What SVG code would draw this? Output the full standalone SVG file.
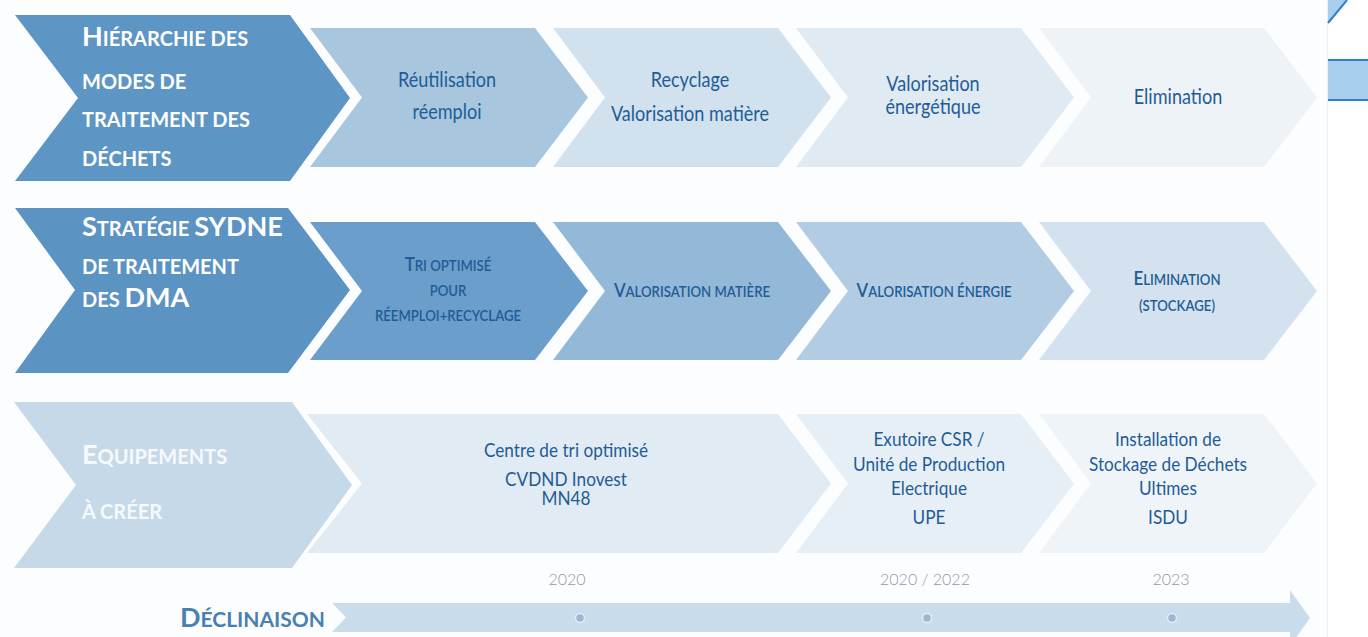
<svg xmlns="http://www.w3.org/2000/svg" width="1368" height="637" viewBox="0 0 1368 637">
  <style>
    .hd { fill:#ffffff; font-family:Lato, "Open Sans", sans-serif; font-weight:700; font-size:20px; }
    .hd3 { fill:#f5f9fc; font-family:Lato, "Open Sans", sans-serif; font-weight:700; font-size:20px; }
    .big { font-size:27px; }
    .lbl { fill:#1f5c96; font-family:Lato, "Open Sans", sans-serif; font-size:21px; text-anchor:middle; }
    .lbl3 { fill:#1f5c96; font-family:Lato, "Open Sans", sans-serif; font-size:20px; text-anchor:middle; }
    .sc { fill:#1f5c96; font-family:Lato, "Open Sans", sans-serif; font-weight:600; font-size:15.5px; text-anchor:middle; }
    .scb { font-size:20px; }
    .yr { fill:#8a9aac; font-family:Lato, "Open Sans", sans-serif; font-weight:300; font-size:16px; text-anchor:middle; }
    .decl { fill:#4a80b0; font-family:Lato, "Open Sans", sans-serif; font-weight:700; font-size:21px; }
    .dot { fill:#9ab8d4; stroke:#e3edf5; stroke-width:1.5; }
  </style>
  <rect x="0" y="0" width="1368" height="637" fill="#ffffff"/>
  <rect x="0" y="0" width="1327" height="637" fill="#fcfdfe"/>
  <line x1="1327.5" y1="0" x2="1327.5" y2="637" stroke="#eef0f2" stroke-width="1"/>

  <!-- Row 1 -->
  <g id="row1-header">
    <polygon points="15,15 290,15 350,98 290,181 15,181 78,98" fill="#5d95c4"/>
    <text class="hd" x="82" y="46"><tspan class="big">H</tspan>IÉRARCHIE DES</text>
    <text class="hd" x="82" y="89">MODES DE</text>
    <text class="hd" x="82" y="127">TRAITEMENT DES</text>
    <text class="hd" x="82" y="166">DÉCHETS</text>
  </g>
  <g id="row1-reutilisation">
    <polygon points="310,28 535,28 588,97.5 535,167 310,167 362,97.5" fill="#a8c7df"/>
    <text class="lbl" transform="matrix(0.86 0 0 1 447 0)" x="0" y="87">Réutilisation</text>
    <text class="lbl" transform="matrix(0.86 0 0 1 447 0)" x="0" y="119">réemploi</text>
  </g>
  <g id="row1-recyclage">
    <polygon points="553,28 778,28 831,97.5 778,167 553,167 605,97.5" fill="#d2e1ee"/>
    <text class="lbl" transform="matrix(0.86 0 0 1 690 0)" x="0" y="87">Recyclage</text>
    <text class="lbl" transform="matrix(0.86 0 0 1 690 0)" x="0" y="121">Valorisation matière</text>
  </g>
  <g id="row1-valorisation-energetique">
    <polygon points="796,28 1021,28 1074,97.5 1021,167 796,167 848,97.5" fill="#e0eaf3"/>
    <text class="lbl" transform="matrix(0.86 0 0 1 933 0)" x="0" y="91">Valorisation</text>
    <text class="lbl" transform="matrix(0.86 0 0 1 933 0)" x="0" y="114">énergétique</text>
  </g>
  <g id="row1-elimination">
    <polygon points="1039,28 1264,28 1317,97.5 1264,167 1039,167 1091,97.5" fill="#eef3f8"/>
    <text class="lbl" transform="matrix(0.86 0 0 1 1178 0)" x="0" y="104">Elimination</text>
  </g>

  <!-- Row 2 -->
  <g id="row2-header">
    <polygon points="15,208 288,208 350,290 288,373 15,373 75,290" fill="#5b93c2"/>
    <text class="hd" x="82" y="236"><tspan class="big">S</tspan>TRATÉGIE <tspan class="big">SYDNE</tspan></text>
    <text class="hd" x="82" y="274">DE TRAITEMENT</text>
    <text class="hd" x="82" y="307">DES <tspan class="big">DMA</tspan></text>
  </g>
  <g id="row2-tri">
    <polygon points="310,222 535,222 588,291 535,360 310,360 362,291" fill="#6b9ecb"/>
    <text class="sc" transform="matrix(0.85 0 0 1 448 0)" x="0" y="271"><tspan class="scb">T</tspan>RI OPTIMISÉ</text>
    <text class="sc" transform="matrix(0.85 0 0 1 448 0)" x="0" y="296">POUR</text>
    <text class="sc" transform="matrix(0.85 0 0 1 448 0)" x="0" y="321">RÉEMPLOI+RECYCLAGE</text>
  </g>
  <g id="row2-valorisation-matiere">
    <polygon points="553,222 778,222 831,291 778,360 553,360 605,291" fill="#93b8d8"/>
    <text class="sc" transform="matrix(0.85 0 0 1 692 0)" x="0" y="297"><tspan class="scb">V</tspan>ALORISATION MATIÈRE</text>
  </g>
  <g id="row2-valorisation-energie">
    <polygon points="796,222 1021,222 1074,291 1021,360 796,360 848,291" fill="#b1cce3"/>
    <text class="sc" transform="matrix(0.85 0 0 1 934 0)" x="0" y="297"><tspan class="scb">V</tspan>ALORISATION ÉNERGIE</text>
  </g>
  <g id="row2-elimination">
    <polygon points="1039,222 1264,222 1317,291 1264,360 1039,360 1091,291" fill="#d3e2ee"/>
    <text class="sc" transform="matrix(0.85 0 0 1 1177 0)" x="0" y="285"><tspan class="scb">E</tspan>LIMINATION</text>
    <text class="sc" transform="matrix(0.85 0 0 1 1177 0)" x="0" y="311">(STOCKAGE)</text>
  </g>

  <!-- Row 3 -->
  <g id="row3-header">
    <polygon points="14,402 292,402 352,485 292,568 14,568 76,485" fill="#c6d9e9"/>
    <text class="hd3" x="82" y="464"><tspan class="big">E</tspan>QUIPEMENTS</text>
    <text class="hd3" x="82" y="519">À CRÉER</text>
  </g>
  <g id="row3-centre-tri">
    <polygon points="307,414 778,414 831,483.5 778,553 307,553 362,483.5" fill="#e1ebf4"/>
    <text class="lbl3" transform="matrix(0.86 0 0 1 566 0)" x="0" y="457">Centre de tri optimisé</text>
    <text class="lbl3" transform="matrix(0.86 0 0 1 566 0)" x="0" y="486">CVDND Inovest</text>
    <text class="lbl3" transform="matrix(0.86 0 0 1 566 0)" x="0" y="505">MN48</text>
  </g>
  <g id="row3-upe">
    <polygon points="796,414 1021,414 1074,483.5 1021,553 796,553 848,483.5" fill="#e7eff6"/>
    <text class="lbl3" transform="matrix(0.86 0 0 1 929 0)" x="0" y="446">Exutoire CSR /</text>
    <text class="lbl3" transform="matrix(0.86 0 0 1 929 0)" x="0" y="471">Unité de Production</text>
    <text class="lbl3" transform="matrix(0.86 0 0 1 929 0)" x="0" y="495">Electrique</text>
    <text class="lbl3" transform="matrix(0.86 0 0 1 929 0)" x="0" y="524">UPE</text>
  </g>
  <g id="row3-isdu">
    <polygon points="1039,414 1264,414 1317,483.5 1264,553 1039,553 1091,483.5" fill="#eff4f9"/>
    <text class="lbl3" transform="matrix(0.86 0 0 1 1168 0)" x="0" y="446">Installation de</text>
    <text class="lbl3" transform="matrix(0.86 0 0 1 1168 0)" x="0" y="471">Stockage de Déchets</text>
    <text class="lbl3" transform="matrix(0.86 0 0 1 1168 0)" x="0" y="495">Ultimes</text>
    <text class="lbl3" transform="matrix(0.86 0 0 1 1168 0)" x="0" y="524">ISDU</text>
  </g>

  <!-- Timeline -->
  <g id="years">
    <text class="yr" x="567" y="585">2020</text>
    <text class="yr" x="925" y="585">2020 / 2022</text>
    <text class="yr" x="1171" y="585">2023</text>
  </g>
  <g id="declinaison-label">
    <text class="decl" x="180" y="627"><tspan font-size="27">D</tspan>ÉCLINAISON</text>
  </g>
  <g id="connectors">
    <polygon id="timeline-arrow" points="332,603 1290,603 1290,590 1310,618 1290,646 1290,632 332,632 346,617.5" fill="#c9dcec"/>
    <circle class="dot" cx="580" cy="618" r="4.5"/>
    <circle class="dot" cx="927" cy="618" r="4.5"/>
    <circle class="dot" cx="1172" cy="618" r="4.5"/>
  </g>

  <!-- Corner fragments -->
  <g id="corner-fragments">
    <polygon points="1328,0 1347,0 1328,23" fill="#a9cfef"/>
    <line x1="1328" y1="23" x2="1347" y2="0" stroke="#2f80c9" stroke-width="2"/>
    <rect x="1328" y="60" width="40" height="40" fill="#a9cfef"/>
    <line x1="1328" y1="60" x2="1368" y2="60" stroke="#2f80c9" stroke-width="2"/>
    <line x1="1328" y1="100" x2="1368" y2="100" stroke="#2f80c9" stroke-width="2"/>
  </g>
</svg>
